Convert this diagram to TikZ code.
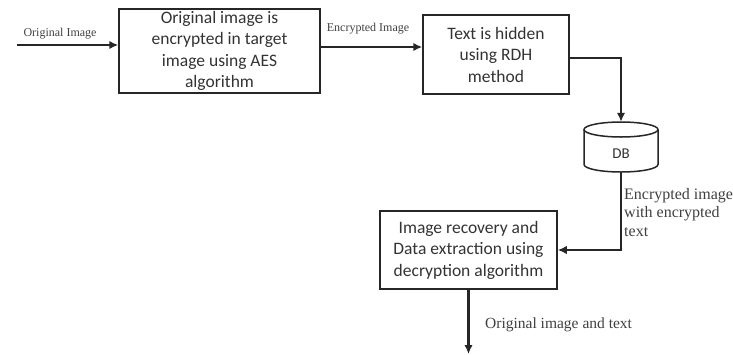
\documentclass[tikz,border=0pt]{standalone}
\usepackage{fontspec}
\setmainfont{Liberation Serif}
\newfontfamily\boxfont{Carlito}
\usetikzlibrary{arrows.meta}
\begin{document}
\begin{tikzpicture}[x=1pt,y=-1pt,
  procbox/.style={draw=black!85, line width=1.5pt, align=center, inner sep=0pt,
    font=\boxfont\fontsize{17.5}{21.5}\selectfont, text=black!80},
  flow/.style={line width=2.8pt, draw=black!85, -{Latex[length=9pt,width=8.5pt]}},
  lbl/.style={inner sep=0pt, text=black!75}
]
\useasboundingbox (0,0) rectangle (733,354);
% boxes
\node[procbox, minimum width=201pt, minimum height=84pt] (b1) at (219.5,51)
  {Original image is\\encrypted in target\\image using AES\\algorithm};
\node[procbox, minimum width=146pt, minimum height=79pt] (b2) at (496,54.5)
  {Text is hidden\\using RDH\\method};
\node[procbox, minimum width=177pt, minimum height=78pt] (b3) at (468.5,250)
  {Image recovery and\\Data extraction using\\decryption algorithm};
% database cylinder
\node[minimum width=74pt, minimum height=50pt, inner sep=0pt] (db) at (621,147) {};
\draw[line width=1.5pt, draw=black!85, fill=white]
  (584,129.5) -- (584,164.5) arc[start angle=180, end angle=360, x radius=37, y radius=-7.5]
  -- (658,129.5);
\draw[line width=1.5pt, draw=black!85] (621,129.5) ellipse[x radius=37, y radius=7.5];
\node[font=\boxfont\fontsize{15}{18}\selectfont, text=black!80] (dbl) at (621,154) {DB};
% connectors
\coordinate (in) at (17,45);
\coordinate (out) at (468.5,354);
\draw[flow] (in) -- (in -| b1.west);
\draw[flow] ([yshift=4pt]b1.east) -- ([yshift=4pt]b1.east -| b2.west);
\draw[flow] ([yshift=-3.5pt]b2.east) -| (db.north);
\draw[flow] (db.south) |- (b3.east);
\draw[flow, line width=2.2pt] (b3.south) -- (out);
% labels
\node[lbl, font=\fontsize{12}{14}\selectfont] (l1) at (60,34) {Original Image};
\node[lbl, font=\fontsize{12}{14}\selectfont] (l2) at (368,29) {Encrypted Image};
\node[lbl, anchor=north west, align=left, font=\fontsize{16}{18.5}\selectfont] (l3) at (624,188)
  {Encrypted image\\with encrypted\\text};
\node[lbl, anchor=west, font=\fontsize{15.5}{18}\selectfont] (l4) at (485,325) {Original image and text};
\end{tikzpicture}
\end{document}
